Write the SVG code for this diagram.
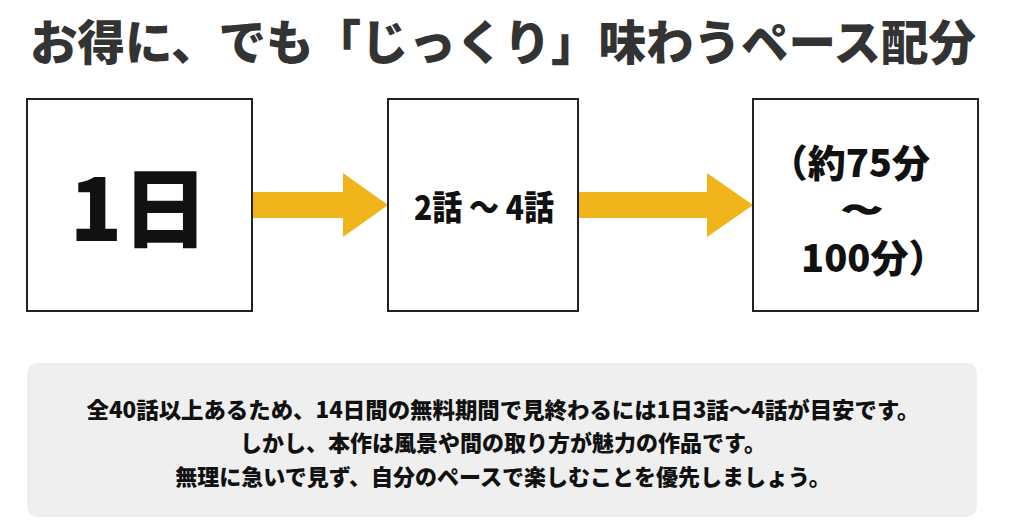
<svg xmlns="http://www.w3.org/2000/svg" width="1024" height="520" viewBox="0 0 1024 520">
<style>
.jp{font-family:"Noto Sans CJK JP","Noto Sans CJK SC",sans-serif;font-weight:900;fill:#111;text-anchor:middle}
.box{fill:#fff;stroke:#222;stroke-width:2}
.arr{fill:#F1B51C}
</style>
<rect width="1024" height="520" fill="#fff"/>
<text class="jp" x="503" y="60" font-size="47.5" style="fill:#333">お得に、でも「じっくり」味わうペース配分</text>
<g id="connectors">
<polygon class="arr" points="253,192 343,192 343,173 388,205 343,237 343,218 253,218"/>
<polygon class="arr" points="579,192 707,192 707,173 753,205 707,237 707,218 579,218"/>
</g>
<g id="node-1day">
<rect class="box" x="27" y="99" width="225" height="212"/>
<text class="jp" x="139" y="241" font-size="86">1日</text>
</g>
<g id="node-episodes">
<rect class="box" x="388" y="99" width="190" height="212"/>
<text class="jp" x="484" y="220" font-size="34" textLength="140" lengthAdjust="spacingAndGlyphs">2話 ～ 4話</text>
</g>
<g id="node-minutes">
<rect class="box" x="753" y="99" width="225" height="212"/>
<text class="jp" x="930" y="177" font-size="38" style="text-anchor:end">（約75分</text>
<text class="jp" x="862" y="220" font-size="27" textLength="40" lengthAdjust="spacingAndGlyphs" stroke="#111" stroke-width="1.6">～</text>
<text class="jp" x="801" y="272" font-size="38" style="text-anchor:start">100分）</text>
</g>
<g id="note">
<rect x="27" y="363" width="950" height="154" rx="10" fill="#efefef"/>
<text class="jp" x="503" y="418" font-size="22" textLength="833" lengthAdjust="spacingAndGlyphs">全40話以上あるため、14日間の無料期間で見終わるには1日3話～4話が目安です。</text>
<text class="jp" x="503" y="451" font-size="22">しかし、本作は風景や間の取り方が魅力の作品です。</text>
<text class="jp" x="503" y="485" font-size="22">無理に急いで見ず、自分のペースで楽しむことを優先しましょう。</text>
</g>
</svg>
